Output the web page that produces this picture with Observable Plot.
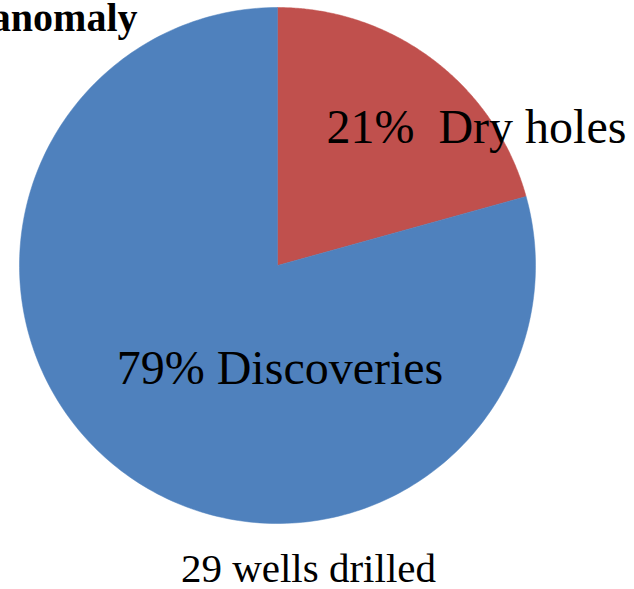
<!DOCTYPE html>
<html>
<head>
<meta charset="utf-8">
<script src="https://cdn.jsdelivr.net/npm/d3@7"></script>
<script src="https://cdn.jsdelivr.net/npm/@observablehq/plot@0.6"></script>
<style>
  html, body { margin: 0; padding: 0; background: #fff; overflow: hidden; }
  svg { display: block; }
</style>
</head>
<body>
<div id="chart"></div>
<script>
// Data
const categories = ["Dry holes", "Discoveries"];
const wells = [6, 23];          // 29 wells drilled
const percentLabels = ["21%", "79%"];
const colors = ["#C0504D", "#4F81BD"];
const titleText = "anomaly";
const captionText = "29 wells drilled";

// Build slice outlines in unit-circle coordinates (clockwise from 12 o'clock)
const pie = d3.pie().sort(null).value(d => d.value);
const arcs = pie(categories.map((c, i) => ({name: c, value: wells[i]})));
const slicePts = [];
arcs.forEach(a => {
  const n = 240;
  slicePts.push({name: a.data.name, x: 0, y: 0});
  for (let k = 0; k <= n; k++) {
    const t = a.startAngle + (a.endAngle - a.startAngle) * k / n;
    slicePts.push({name: a.data.name, x: Math.sin(t), y: Math.cos(t)});
  }
  slicePts.push({name: a.data.name, x: 0, y: 0});
});

const labels = [
  {text: percentLabels[0] + "  " + categories[0], x: 0.771, y: 0.536},
  {text: percentLabels[1] + " " + categories[1], x: 0.0097, y: -0.398}
];

const W = 634, H = 589;
const chart = Plot.plot({
  width: W,
  height: H,
  margin: 0,
  x: {domain: [-1.0736, 1.3837], axis: null},
  y: {domain: [-1.2558, 1.0271], axis: null},
  color: {domain: categories, range: colors},
  style: {fontFamily: "'Liberation Serif', 'Times New Roman', serif", background: "#fff", overflow: "hidden"},
  marks: [
    Plot.line(slicePts, {x: "x", y: "y", z: "name", fill: "name", stroke: "name", strokeWidth: 0.5, curve: "linear"}),
    Plot.text(labels, {x: "x", y: "y", text: "text", fontSize: 48, fill: "#000", textAnchor: "middle", fontFamily: "Liberation Serif"}),
    Plot.text([titleText], {x: -0.5426, y: 0.960, text: d => d, fontSize: 40, fontWeight: "bold", fill: "#000", textAnchor: "end", fontFamily: "Liberation Serif"}),
    Plot.text([captionText], {x: 0.120, y: -1.175, text: d => d, fontSize: 41, fill: "#000", textAnchor: "middle", fontFamily: "Liberation Serif"})
  ]
});
document.getElementById("chart").appendChild(chart);
</script>
</body>
</html>
